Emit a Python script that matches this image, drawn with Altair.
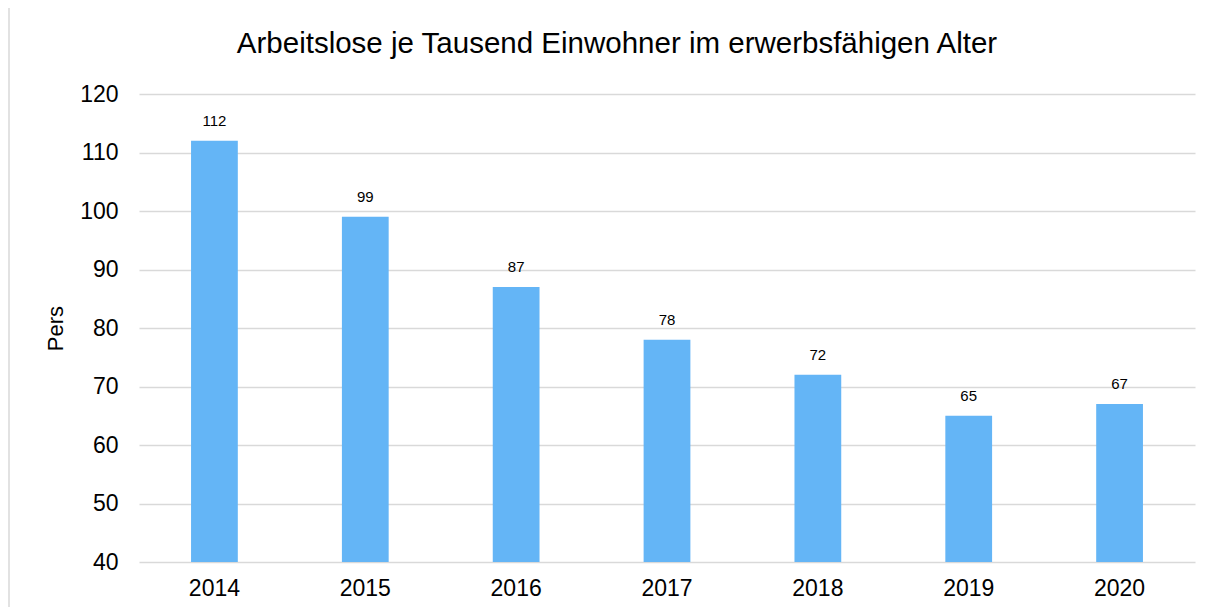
import altair as alt
import pandas as pd

years = ["2014", "2015", "2016", "2017", "2018", "2019", "2020"]
values = [112, 99, 87, 78, 72, 65, 67]
y_ticks = [40, 50, 60, 70, 80, 90, 100, 110, 120]
title_text = "Arbeitslose je Tausend Einwohner im erwerbsfähigen Alter"

df = pd.DataFrame({"Jahr": years, "Wert": values})
one = pd.DataFrame({"t": [title_text]})

FONT = "Liberation Sans"

x_enc = alt.X("Jahr:N", sort=years, title=None,
              scale=alt.Scale(paddingInner=0.69, paddingOuter=0.345),
              axis=alt.Axis(labelAngle=0, labelFontSize=23, labelColor="#000000",
                            labelFont=FONT, ticks=False, domain=False, labelPadding=15,
                            grid=False))
y_enc = alt.Y("Wert:Q", title="Pers",
              scale=alt.Scale(domain=[40, 120], nice=False, zero=False),
              axis=alt.Axis(values=y_ticks, labelFontSize=23, labelColor="#000000",
                            labelFont=FONT, ticks=False, domain=False, labelPadding=21,
                            gridColor="#D9D9D9", gridWidth=1.5,
                            titleFont=FONT, titleFontSize=22, titleFontWeight="normal",
                            titleColor="#000000", titlePadding=12))

bars = alt.Chart(df).mark_bar(color="#64B5F6", clip=True).encode(x=x_enc, y=y_enc)

labels = alt.Chart(df).mark_text(fontSize=15, font=FONT, color="#000000",
                                 baseline="middle", dy=-20).encode(
    x=alt.X("Jahr:N", sort=years),
    y="Wert:Q",
    text="Wert:Q",
)

title = alt.Chart(one).mark_text(fontSize=29.5, font=FONT, color="#000000",
                                 align="center", baseline="middle").encode(
    x=alt.value(478), y=alt.value(-50), text="t:N")

frame = alt.Chart(one).mark_rect(fill="transparent", stroke="#D9D9D9",
                                 strokeWidth=1.5).encode(
    x=alt.value(-130), x2=alt.value(1300), y=alt.value(-88), y2=alt.value(700))

chart = alt.layer(bars, labels, title, frame).properties(
    width=1056,
    height=468,
    background="#FFFFFF",
    padding={"left": 131, "top": 86, "right": 16, "bottom": 45},
    autosize=alt.AutoSizeParams(type="none"),
).configure_view(stroke=None, strokeWidth=0)

chart.save("out.html", embed_options={"renderer": "svg", "actions": False})
